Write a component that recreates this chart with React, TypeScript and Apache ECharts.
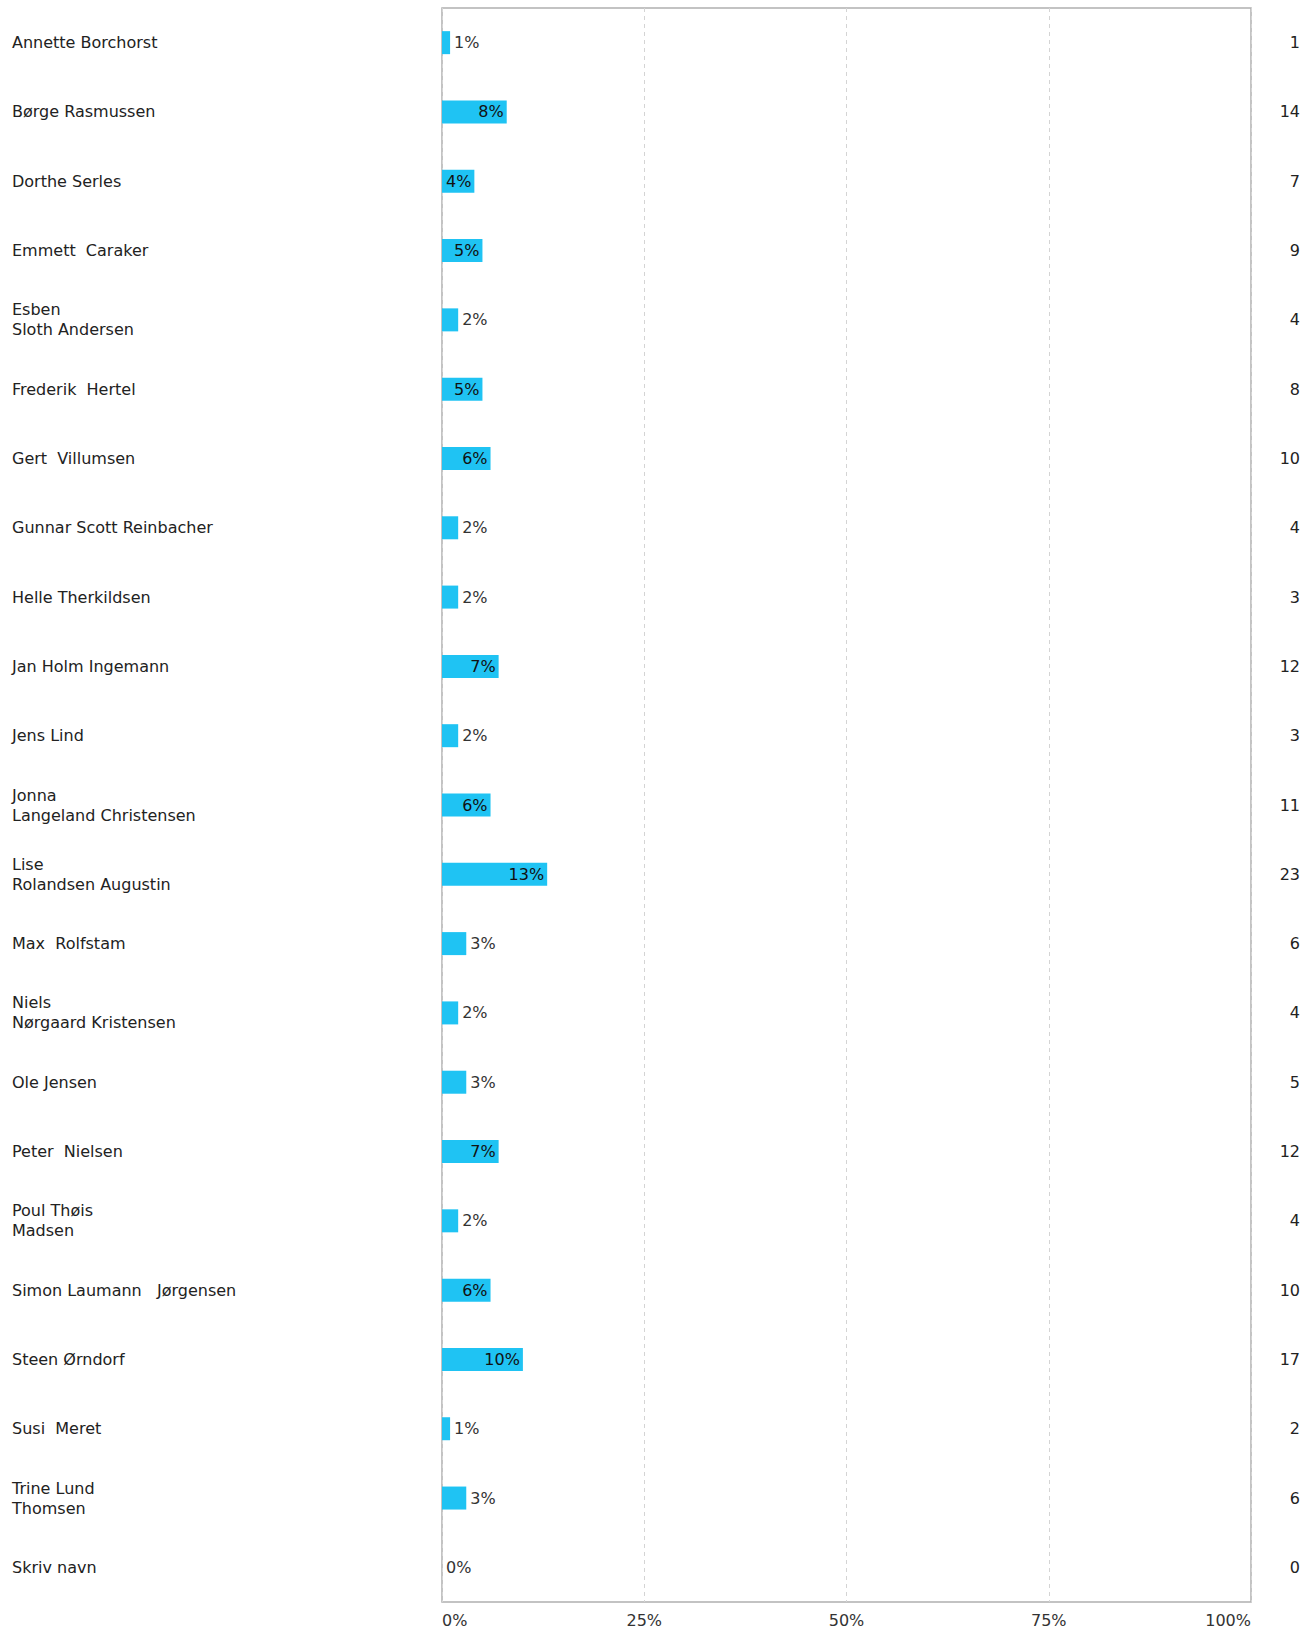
import React, { useEffect, useRef } from "react";
import * as echarts from "echarts";

const names = [
  "Annette Borchorst",
  "Børge Rasmussen",
  "Dorthe Serles",
  "Emmett  Caraker",
  "Esben\nSloth Andersen",
  "Frederik  Hertel",
  "Gert  Villumsen",
  "Gunnar Scott Reinbacher",
  "Helle Therkildsen",
  "Jan Holm Ingemann",
  "Jens Lind",
  "Jonna\nLangeland Christensen",
  "Lise\nRolandsen Augustin",
  "Max  Rolfstam",
  "Niels\nNørgaard Kristensen",
  "Ole Jensen",
  "Peter  Nielsen",
  "Poul Thøis\nMadsen",
  "Simon Laumann   Jørgensen",
  "Steen Ørndorf",
  "Susi  Meret",
  "Trine Lund\nThomsen",
  "Skriv navn",
];
const counts = [1, 14, 7, 9, 4, 8, 10, 4, 3, 12, 3, 11, 23, 6, 4, 5, 12, 4, 10, 17, 2, 6, 0];
const percents = [1, 8, 4, 5, 2, 5, 6, 2, 2, 7, 2, 6, 13, 3, 2, 3, 7, 2, 6, 10, 1, 3, 0];
const xTicks = [0, 25, 50, 75, 100];

export default function App() {
  const ref = useRef<HTMLDivElement>(null);
  useEffect(() => {
    document.body.style.margin = "0";
    const chart = echarts.init(ref.current!, null, { renderer: "svg" });
    const font = "'DejaVu Sans', sans-serif";
    chart.setOption({
      animation: false,
      grid: {
        left: 442,
        right: 61,
        top: 8,
        bottom: 30,
        show: true,
        borderColor: "#b0b0b0",
        borderWidth: 1.5,
        containLabel: false,
      },
      xAxis: {
        type: "value",
        min: xTicks[0],
        max: xTicks[xTicks.length - 1],
        interval: 25,
        axisLine: { show: false },
        axisTick: { show: false },
        splitLine: {
          show: true,
          lineStyle: { color: "#d4d4d4", type: [4, 4], width: 1 },
        },
        axisLabel: {
          formatter: "{value}%",
          color: "#333",
          fontSize: 16,
          fontFamily: font,
          margin: 10,
          alignMinLabel: "left",
          alignMaxLabel: "right",
        },
      },
      yAxis: [
        {
          type: "category",
          inverse: true,
          data: names,
          axisLine: { show: false },
          axisTick: { show: false },
          axisLabel: {
            align: "left",
            margin: 430,
            color: "#222",
            fontSize: 16,
            lineHeight: 20,
            fontFamily: font,
          },
        },
        {
          type: "category",
          inverse: true,
          position: "right",
          data: counts.map(String),
          axisLine: { show: false },
          axisTick: { show: false },
          axisLabel: {
            align: "right",
            margin: 49,
            color: "#222",
            fontSize: 16,
            fontFamily: font,
          },
        },
      ],
      series: [
        {
          type: "bar",
          yAxisIndex: 0,
          barWidth: 23,
          data: percents.map((v) => ({
            value: v,
            label: {
              position: v >= 4 ? "insideRight" : "right",
              distance: v >= 4 ? 3 : 4,
              color: v >= 4 ? "#111" : "#333",
            },
          })),
          itemStyle: { color: "#1fc3f3" },
          label: {
            show: true,
            fontSize: 16,
            fontFamily: font,
            formatter: (p: any) => p.value + "%",
          },
        },
      ],
    });
    return () => chart.dispose();
  }, []);
  return <div ref={ref} style={{ width: 1312, height: 1632 }} />;
}
